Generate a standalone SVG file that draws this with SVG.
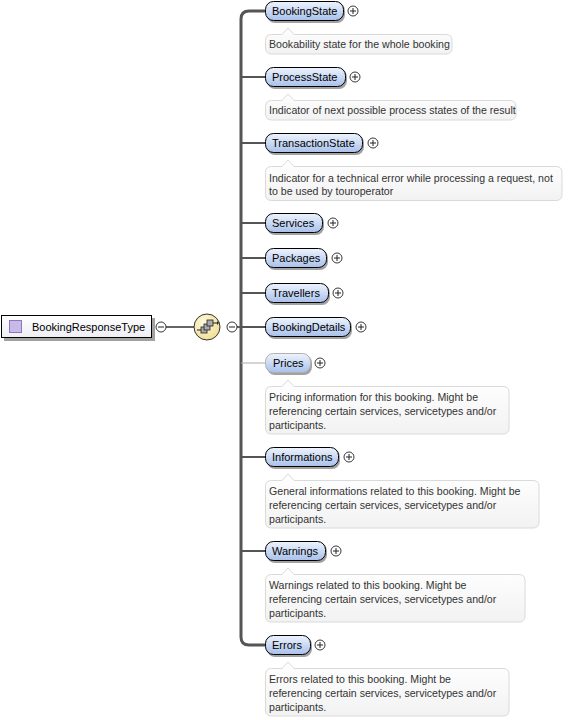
<svg xmlns="http://www.w3.org/2000/svg" width="569" height="720" viewBox="0 0 569 720">
<defs>
<linearGradient id="ng" x1="0" y1="0" x2="0" y2="1"><stop offset="0" stop-color="#eef4fd"/><stop offset="1" stop-color="#a8c0ea"/></linearGradient>
<linearGradient id="dg" x1="0" y1="0" x2="0" y2="1"><stop offset="0" stop-color="#ffffff"/><stop offset="1" stop-color="#f2f2f2"/></linearGradient>
<linearGradient id="rg" x1="0" y1="0" x2="0" y2="1"><stop offset="0" stop-color="#ffffff"/><stop offset="1" stop-color="#eeeef4"/></linearGradient>
<radialGradient id="sg" cx="0.4" cy="0.35" r="0.7"><stop offset="0" stop-color="#fffbe0"/><stop offset="1" stop-color="#f0dc90"/></radialGradient>
</defs>
<style>
.nb{fill:url(#ng);stroke:#000;stroke-width:1}
.ob{fill:url(#ng);stroke:#b0b0b0;stroke-width:1}
.sh{fill:#555;opacity:0.55}
.nt{font-family:"Liberation Sans",Arial,sans-serif;font-size:11px;fill:#000}
.db{fill:url(#dg);stroke:#dadada;stroke-width:1}
.dt{font-family:"Liberation Sans",Arial,sans-serif;font-size:10.6px;fill:#333}
.pc{fill:#fff;stroke:#222;stroke-width:0.9}
.pl{stroke:#222;stroke-width:1}
.cn{fill:none;stroke:#555;stroke-width:2}
.co{fill:none;stroke:#aaa;stroke-width:1}
</style>
<g id="connectors">
<line x1="166" y1="327" x2="194" y2="327" stroke="#333" stroke-width="1.5"/>
<line x1="237" y1="327" x2="241" y2="327" stroke="#333" stroke-width="1.5"/>
<path d="M265 11 H249 Q241 11 241 19 V637 Q241 645 249 645 H265" fill="none" stroke="#555" stroke-width="3"/>
<line class="cn" x1="241" y1="77" x2="265" y2="77"/>
<line class="cn" x1="241" y1="143" x2="265" y2="143"/>
<line class="cn" x1="241" y1="223" x2="265" y2="223"/>
<line class="cn" x1="241" y1="258" x2="265" y2="258"/>
<line class="cn" x1="241" y1="293" x2="265" y2="293"/>
<line class="cn" x1="241" y1="327" x2="265" y2="327"/>
<line class="co" x1="241" y1="363" x2="265" y2="363"/>
<line class="cn" x1="241" y1="457" x2="265" y2="457"/>
<line class="cn" x1="241" y1="551" x2="265" y2="551"/>
</g>
<g id="root">
<rect class="sh" x="4" y="318" width="151" height="23"/>
<rect x="1.5" y="315.5" width="150" height="22" fill="url(#rg)" stroke="#000"/>
<rect x="9.5" y="320.5" width="12" height="12" fill="#c9b9e9" stroke="#8a78c0"/>
<text class="nt" x="32" y="331">BookingResponseType</text>
<circle class="pc" cx="161" cy="327" r="5"/><line class="pl" x1="158" y1="327" x2="164" y2="327"/>
</g>
<g id="sequence">
<circle cx="207" cy="327" r="13" fill="url(#sg)" stroke="#333" stroke-width="1"/>
<line x1="197" y1="330" x2="201" y2="330" stroke="#222" stroke-width="1"/>
<line x1="213" y1="323" x2="217" y2="323" stroke="#222" stroke-width="1"/>
<path d="M217 321 L219 323 L217 325 Z" fill="#222"/>
<rect x="201" y="327" width="6" height="6" fill="#aaa" stroke="#222" stroke-width="0.8"/>
<rect x="204" y="324" width="6" height="6" fill="#aaa" stroke="#222" stroke-width="0.8"/>
<rect x="207" y="320" width="6" height="6" fill="#aaa" stroke="#222" stroke-width="0.8"/>
<circle class="pc" cx="232" cy="327" r="5"/><line class="pl" x1="229" y1="327" x2="235" y2="327"/>
</g>
<g id="BookingState">
<rect class="sh" x="267" y="3" width="78" height="20" rx="8"/>
<rect class="nb" x="265.5" y="1.5" width="78" height="19" rx="8"/>
<text class="nt" x="272" y="15">BookingState</text>
<circle class="pc" cx="353" cy="11" r="5"/><line class="pl" x1="350" y1="11" x2="356" y2="11"/><line class="pl" x1="353" y1="8" x2="353" y2="14"/>
<path class="db" d="M271.5 34.5 H282 L288 28 L294 34.5 H446 Q452 34.5 452 40.5 V48 Q452 54 446 54 H271.5 Q265.5 54 265.5 48 V40.5 Q265.5 34.5 271.5 34.5 Z"/>
<text class="dt" x="269" y="48">Bookability state for the whole booking</text>
</g>
<g id="ProcessState">
<rect class="sh" x="267" y="69" width="80" height="20" rx="8"/>
<rect class="nb" x="265.5" y="67.5" width="80" height="19" rx="8"/>
<text class="nt" x="272" y="81">ProcessState</text>
<circle class="pc" cx="355" cy="77" r="5"/><line class="pl" x1="352" y1="77" x2="358" y2="77"/><line class="pl" x1="355" y1="74" x2="355" y2="80"/>
<path class="db" d="M271.5 100.5 H282 L288 94 L294 100.5 H510 Q516 100.5 516 106.5 V114 Q516 120 510 120 H271.5 Q265.5 120 265.5 114 V106.5 Q265.5 100.5 271.5 100.5 Z"/>
<text class="dt" x="269" y="114">Indicator of next possible process states of the result</text>
</g>
<g id="TransactionState">
<rect class="sh" x="267" y="135" width="97" height="20" rx="8"/>
<rect class="nb" x="265.5" y="133.5" width="97" height="19" rx="8"/>
<text class="nt" x="272" y="147">TransactionState</text>
<circle class="pc" cx="373" cy="143" r="5"/><line class="pl" x1="370" y1="143" x2="376" y2="143"/><line class="pl" x1="373" y1="140" x2="373" y2="146"/>
<path class="db" d="M271.5 166.5 H282 L288 160 L294 166.5 H556 Q562 166.5 562 172.5 V194.5 Q562 200.5 556 200.5 H271.5 Q265.5 200.5 265.5 194.5 V172.5 Q265.5 166.5 271.5 166.5 Z"/>
<text class="dt" x="269" y="182">Indicator for a technical error while processing a request, not</text>
<text class="dt" x="269" y="195">to be used by touroperator</text>
</g>
<g id="Services">
<rect class="sh" x="267" y="215" width="57" height="20" rx="8"/>
<rect class="nb" x="265.5" y="213.5" width="57" height="19" rx="8"/>
<text class="nt" x="272" y="227">Services</text>
<circle class="pc" cx="333" cy="223" r="5"/><line class="pl" x1="330" y1="223" x2="336" y2="223"/><line class="pl" x1="333" y1="220" x2="333" y2="226"/>
</g>
<g id="Packages">
<rect class="sh" x="267" y="250" width="61" height="20" rx="8"/>
<rect class="nb" x="265.5" y="248.5" width="61" height="19" rx="8"/>
<text class="nt" x="272" y="262">Packages</text>
<circle class="pc" cx="337" cy="258" r="5"/><line class="pl" x1="334" y1="258" x2="340" y2="258"/><line class="pl" x1="337" y1="255" x2="337" y2="261"/>
</g>
<g id="Travellers">
<rect class="sh" x="267" y="285" width="63" height="20" rx="8"/>
<rect class="nb" x="265.5" y="283.5" width="63" height="19" rx="8"/>
<text class="nt" x="272" y="297">Travellers</text>
<circle class="pc" cx="338" cy="293" r="5"/><line class="pl" x1="335" y1="293" x2="341" y2="293"/><line class="pl" x1="338" y1="290" x2="338" y2="296"/>
</g>
<g id="BookingDetails">
<rect class="sh" x="267" y="319" width="85" height="20" rx="8"/>
<rect class="nb" x="265.5" y="317.5" width="85" height="19" rx="8"/>
<text class="nt" x="272" y="331">BookingDetails</text>
<circle class="pc" cx="361" cy="327" r="5"/><line class="pl" x1="358" y1="327" x2="364" y2="327"/><line class="pl" x1="361" y1="324" x2="361" y2="330"/>
</g>
<g id="Prices">
<rect class="sh" x="267" y="355" width="45" height="20" rx="8"/>
<rect class="ob" x="265.5" y="353.5" width="45" height="19" rx="8"/>
<text class="nt" x="273" y="367">Prices</text>
<circle class="pc" cx="320" cy="363" r="5"/><line class="pl" x1="317" y1="363" x2="323" y2="363"/><line class="pl" x1="320" y1="360" x2="320" y2="366"/>
<path class="db" d="M271.5 386.5 H282 L288 380 L294 386.5 H503 Q509 386.5 509 392.5 V428 Q509 434 503 434 H271.5 Q265.5 434 265.5 428 V392.5 Q265.5 386.5 271.5 386.5 Z"/>
<text class="dt" x="269" y="401">Pricing information for this booking. Might be</text>
<text class="dt" x="269" y="415">referencing certain services, servicetypes and/or</text>
<text class="dt" x="269" y="429">participants.</text>
</g>
<g id="Informations">
<rect class="sh" x="267" y="449" width="73" height="20" rx="8"/>
<rect class="nb" x="265.5" y="447.5" width="73" height="19" rx="8"/>
<text class="nt" x="272" y="461">Informations</text>
<circle class="pc" cx="349" cy="457" r="5"/><line class="pl" x1="346" y1="457" x2="352" y2="457"/><line class="pl" x1="349" y1="454" x2="349" y2="460"/>
<path class="db" d="M271.5 480.5 H282 L288 474 L294 480.5 H533 Q539 480.5 539 486.5 V522 Q539 528 533 528 H271.5 Q265.5 528 265.5 522 V486.5 Q265.5 480.5 271.5 480.5 Z"/>
<text class="dt" x="269" y="495">General informations related to this booking. Might be</text>
<text class="dt" x="269" y="509">referencing certain services, servicetypes and/or</text>
<text class="dt" x="269" y="523">participants.</text>
</g>
<g id="Warnings">
<rect class="sh" x="267" y="543" width="60" height="20" rx="8"/>
<rect class="nb" x="265.5" y="541.5" width="60" height="19" rx="8"/>
<text class="nt" x="272" y="555">Warnings</text>
<circle class="pc" cx="336" cy="551" r="5"/><line class="pl" x1="333" y1="551" x2="339" y2="551"/><line class="pl" x1="336" y1="548" x2="336" y2="554"/>
<path class="db" d="M271.5 574.5 H282 L288 568 L294 574.5 H519 Q525 574.5 525 580.5 V616 Q525 622 519 622 H271.5 Q265.5 622 265.5 616 V580.5 Q265.5 574.5 271.5 574.5 Z"/>
<text class="dt" x="269" y="589">Warnings related to this booking. Might be</text>
<text class="dt" x="269" y="603">referencing certain services, servicetypes and/or</text>
<text class="dt" x="269" y="617">participants.</text>
</g>
<g id="Errors">
<rect class="sh" x="267" y="637" width="45" height="20" rx="8"/>
<rect class="nb" x="265.5" y="635.5" width="45" height="19" rx="8"/>
<text class="nt" x="272" y="649">Errors</text>
<circle class="pc" cx="320" cy="645" r="5"/><line class="pl" x1="317" y1="645" x2="323" y2="645"/><line class="pl" x1="320" y1="642" x2="320" y2="648"/>
<path class="db" d="M271.5 668.5 H282 L288 662 L294 668.5 H503 Q509 668.5 509 674.5 V710 Q509 716 503 716 H271.5 Q265.5 716 265.5 710 V674.5 Q265.5 668.5 271.5 668.5 Z"/>
<text class="dt" x="269" y="683">Errors related to this booking. Might be</text>
<text class="dt" x="269" y="697">referencing certain services, servicetypes and/or</text>
<text class="dt" x="269" y="711">participants.</text>
</g>
</svg>
